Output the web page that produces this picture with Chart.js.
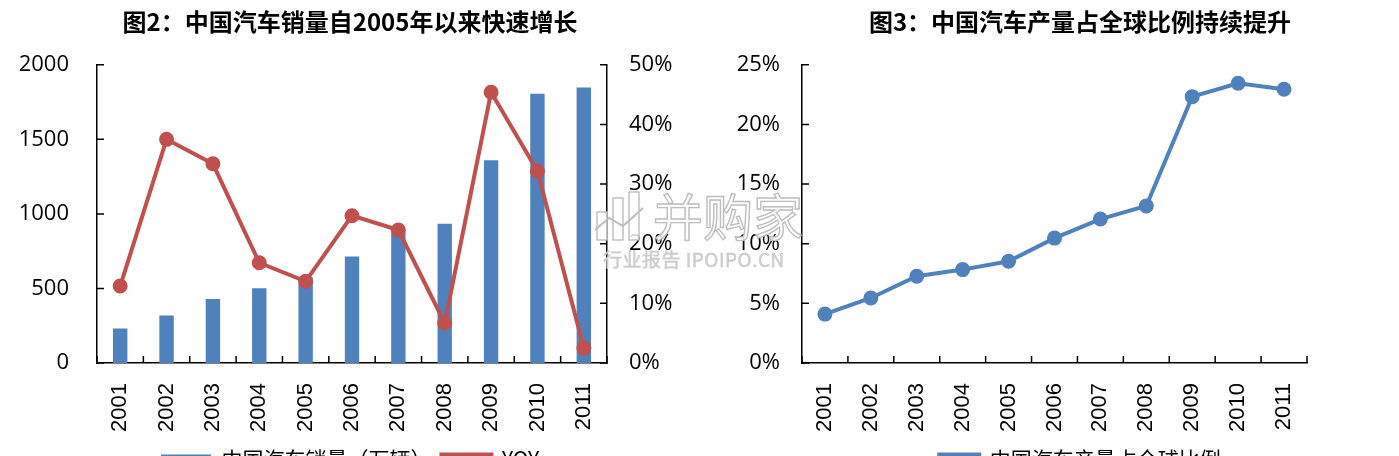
<!DOCTYPE html>
<html>
<head>
<meta charset="utf-8">
<script src="https://cdn.jsdelivr.net/npm/chart.js@4.4.1/dist/chart.umd.min.js"></script>
<style>
  html, body { margin: 0; padding: 0; background: #fff; }
  body { width: 1399px; height: 456px; overflow: hidden; position: relative; }
  #leftBox { position: absolute; left: 0; top: 0; }
  #rightBox { position: absolute; left: 705px; top: 0; }
  #mark { position: absolute; left: 593px; top: 186px; pointer-events: none; }
  #mark .big { position: absolute; left: 60px; top: -8px; font: 50px "Noto Sans CJK SC"; color: rgba(255,255,255,0.85);
    -webkit-text-stroke: 1.4px #bdbdbd; white-space: nowrap; }
  #mark .small { position: absolute; left: 10px; top: 59px; font: 19px "Noto Sans CJK SC"; color: #cfcfcf;
    -webkit-text-stroke: 0.4px #c4c4c4; white-space: nowrap; letter-spacing: 0.5px; }
</style>
</head>
<body>
<div id="leftBox"><canvas id="salesChart" width="700" height="480"></canvas></div>
<div id="rightBox"><canvas id="shareChart" width="750" height="480"></canvas></div>
<div id="mark">
  <svg width="58" height="56" style="position:absolute;left:0;top:4px">
    <g fill="rgba(255,255,255,0.8)" stroke="#bdbdbd" stroke-width="1.4">
      <rect x="4" y="22" width="10" height="28"/>
      <rect x="20" y="8" width="10" height="42"/>
      <rect x="36" y="2" width="10" height="48"/>
    </g>
    <polyline points="2,40 16,28 30,36 50,18" fill="none" stroke="#bdbdbd" stroke-width="2"/>
  </svg>
  <span class="big">并购家</span>
  <span class="small">行业报告 IPOIPO.CN</span>
</div>
<script>
// data
const years = ['2001', '2002', '2003', '2004', '2005', '2006', '2007', '2008', '2009', '2010', '2011'];
const salesVolume = [231, 319, 429, 501, 575, 714, 875, 934, 1360, 1805, 1847]; // 万辆
const salesYoy = [12.9, 37.5, 33.4, 16.8, 13.7, 24.7, 22.3, 6.7, 45.4, 32.2, 2.5]; // %
const globalShare = [4.1, 5.45, 7.27, 7.83, 8.53, 10.47, 12.07, 13.17, 22.33, 23.45, 22.95]; // %

const volumeTicks = { min: 0, max: 2000, step: 500 };
const yoyTicks = { min: 0, max: 50, step: 10 };
const shareTicks = { min: 0, max: 25, step: 5 };

const BLUE = '#4F81BD';
const RED = '#C0504D';
const tickFont = { family: '"Open Sans"', size: 22 };
const yearFont = { family: '"Liberation Sans"', size: 22 };
const cjk = '"Noto Sans CJK SC"';

// short tick marks pointing into the plot, like the Excel original
const inwardTicks = {
  id: 'inwardTicks',
  afterDraw(chart, args, opts) {
    const { ctx, chartArea: a } = chart;
    ctx.save();
    ctx.strokeStyle = '#000';
    ctx.lineWidth = 1.5;
    ctx.beginPath();
    (opts.y || []).forEach(([id, side]) => {
      const s = chart.scales[id];
      s.ticks.forEach((t, i) => {
        const py = s.getPixelForTick(i);
        const x0 = side === 'left' ? a.left : a.right;
        ctx.moveTo(x0, py);
        ctx.lineTo(side === 'left' ? x0 + 7 : x0 - 7, py);
      });
    });
    const xs = chart.scales.x;
    const n = chart.data.labels.length;
    for (let i = 0; i <= n; i++) {
      let px;
      if (i === 0) px = a.left;
      else if (i === n) px = a.right;
      else px = (xs.getPixelForValue(i - 1) + xs.getPixelForValue(i)) / 2;
      ctx.moveTo(px, a.bottom);
      ctx.lineTo(px, a.bottom - 7);
    }
    ctx.stroke();
    ctx.restore();
  }
};

function yearAxis() {
  return {
    afterFit: s => { s.height = 76; },
    grid: { display: false, drawTicks: false },
    border: { display: true, color: '#000', width: 1.5 },
    ticks: { color: '#000', font: yearFont, minRotation: 90, maxRotation: 90, autoSkip: false, padding: 20 }
  };
}

function valueAxis(t, pos, width, pad, fmt) {
  return {
    position: pos,
    min: t.min, max: t.max,
    afterFit: s => { s.width = width; },
    grid: { display: false, drawTicks: false },
    border: { display: true, color: '#000', width: 1.5 },
    ticks: { stepSize: t.step, color: '#000', font: tickFont, padding: pad, callback: fmt }
  };
}

function titleOpts(text) {
  return {
    display: true, text: text, color: '#000',
    font: { family: cjk, size: 24, weight: 'bold' },
    padding: { top: 7, bottom: 29 }
  };
}

function legendOpts(boxW) {
  return {
    position: 'bottom',
    labels: {
      color: '#000', font: { family: cjk, size: 21 }, padding: 10, boxWidth: boxW, boxHeight: 10,
      sort: (a, b) => b.datasetIndex - a.datasetIndex
    }
  };
}

new Chart(document.getElementById('salesChart').getContext('2d'), {
  type: 'bar',
  data: {
    labels: years,
    datasets: [{
      type: 'line',
      label: 'YOY',
      data: salesYoy,
      yAxisID: 'y1',
      borderColor: RED,
      backgroundColor: RED,
      borderWidth: 4,
      pointRadius: 5.5,
      pointBackgroundColor: RED,
      pointBorderColor: RED,
      tension: 0
    }, {
      label: '中国汽车销量（万辆）',
      data: salesVolume,
      yAxisID: 'y',
      backgroundColor: BLUE,
      barPercentage: 0.31,
      categoryPercentage: 1
    }]
  },
  options: {
    responsive: false,
    animation: false,
    devicePixelRatio: 1,
    plugins: {
      title: titleOpts('图2：中国汽车销量自2005年以来快速增长'),
      legend: legendOpts(50),
      tooltip: { enabled: false },
      inwardTicks: { y: [['y', 'left'], ['y1', 'right']] }
    },
    scales: {
      x: yearAxis(),
      y: valueAxis(volumeTicks, 'left', 97, 28, v => v),
      y1: valueAxis(yoyTicks, 'right', 93, 22, v => v + '%')
    }
  },
  plugins: [inwardTicks]
});

new Chart(document.getElementById('shareChart').getContext('2d'), {
  type: 'line',
  data: {
    labels: years,
    datasets: [{
      label: '中国汽车产量占全球比例',
      data: globalShare,
      borderColor: BLUE,
      backgroundColor: BLUE,
      borderWidth: 4,
      pointRadius: 5.5,
      pointBackgroundColor: BLUE,
      pointBorderColor: BLUE,
      tension: 0
    }]
  },
  options: {
    responsive: false,
    animation: false,
    devicePixelRatio: 1,
    plugins: {
      title: titleOpts('图3：中国汽车产量占全球比例持续提升'),
      legend: legendOpts(40),
      tooltip: { enabled: false },
      inwardTicks: { y: [['y', 'left']] }
    },
    scales: {
      x: Object.assign(yearAxis(), { offset: true }),
      y: valueAxis(shareTicks, 'left', 97, 22, v => v + '%'),
      spacer: {
        position: 'right',
        afterFit: s => { s.width = 148; },
        grid: { display: false, drawTicks: false },
        border: { display: false },
        ticks: { display: false }
      }
    }
  },
  plugins: [inwardTicks]
});
</script>
</body>
</html>
